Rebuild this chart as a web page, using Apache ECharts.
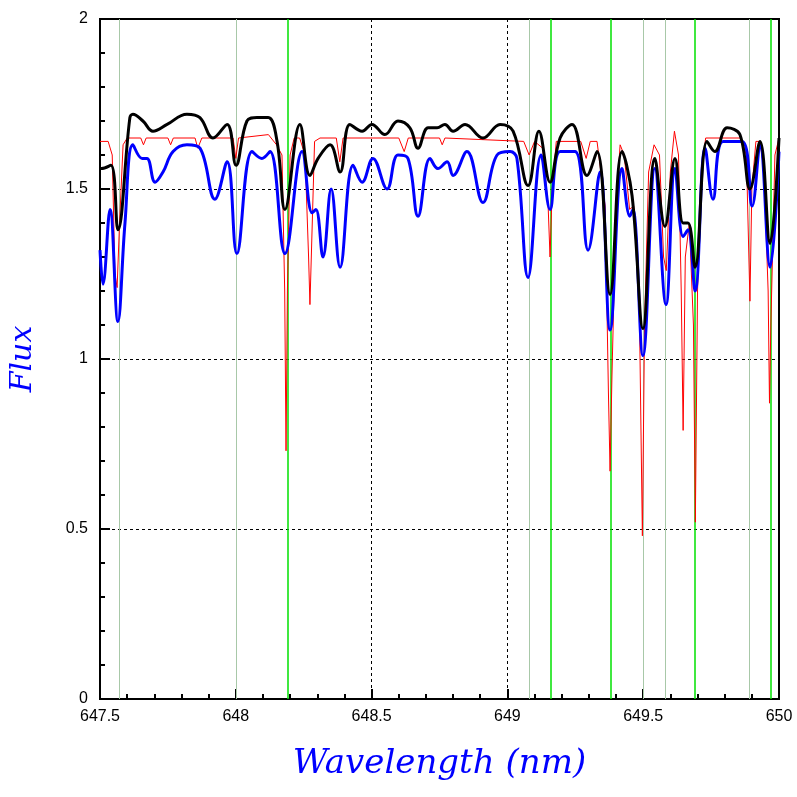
<!DOCTYPE html>
<html><head><meta charset="utf-8">
<script src="https://cdn.jsdelivr.net/npm/echarts@6/dist/echarts.min.js"></script>
<style>html,body{margin:0;background:#fff}#chart{width:797px;height:797px}</style>
</head><body><div id="chart"></div>
<script>
var blackCurve=[[647.5,1.56],[647.505,1.56],[647.54,1.57],[647.566,1.38],[647.61,1.71],[647.621,1.72],[647.658,1.70],[647.695,1.67],[647.747,1.69],[647.82,1.72],[647.868,1.71],[647.916,1.65],[647.968,1.69],[648.001,1.57],[648.041,1.70],[648.078,1.71],[648.119,1.71],[648.152,1.64],[648.181,1.44],[648.236,1.69],[648.273,1.54],[648.303,1.59],[648.347,1.63],[648.384,1.55],[648.42,1.69],[648.465,1.67],[648.501,1.69],[648.549,1.66],[648.597,1.70],[648.641,1.68],[648.671,1.62],[648.708,1.68],[648.741,1.68],[648.77,1.69],[648.8,1.67],[648.844,1.69],[648.91,1.65],[648.973,1.69],[649.021,1.67],[649.076,1.51],[649.116,1.67],[649.157,1.52],[649.194,1.65],[649.238,1.69],[649.293,1.54],[649.33,1.61],[649.378,1.19],[649.422,1.61],[649.459,1.48],[649.499,1.09],[649.543,1.59],[649.58,1.39],[649.617,1.59],[649.647,1.40],[649.665,1.40],[649.691,1.27],[649.735,1.64],[649.764,1.61],[649.809,1.68],[649.856,1.66],[649.893,1.50],[649.93,1.64],[649.967,1.34],[650,1.65]];
var blueCurve=[[647.5,1.32],[647.511,1.22],[647.537,1.44],[647.566,1.11],[647.592,1.40],[647.621,1.63],[647.655,1.59],[647.673,1.59],[647.703,1.52],[647.732,1.55],[647.769,1.61],[647.82,1.63],[647.868,1.62],[647.923,1.47],[647.968,1.58],[648.004,1.31],[648.06,1.61],[648.096,1.59],[648.126,1.61],[648.181,1.31],[648.244,1.61],[648.281,1.43],[648.295,1.44],[648.321,1.30],[648.351,1.50],[648.384,1.27],[648.432,1.57],[648.465,1.52],[648.505,1.59],[648.557,1.50],[648.597,1.60],[648.634,1.59],[648.671,1.42],[648.715,1.59],[648.744,1.56],[648.778,1.58],[648.8,1.54],[648.851,1.61],[648.91,1.46],[648.962,1.60],[649.01,1.61],[649.035,1.59],[649.076,1.24],[649.124,1.60],[649.157,1.44],[649.194,1.61],[649.249,1.61],[649.297,1.32],[649.341,1.55],[649.378,1.085],[649.422,1.56],[649.451,1.42],[649.462,1.44],[649.499,1.01],[649.543,1.56],[649.584,1.16],[649.617,1.56],[649.647,1.36],[649.665,1.38],[649.691,1.20],[649.728,1.62],[649.757,1.47],[649.794,1.64],[649.864,1.64],[649.901,1.45],[649.93,1.63],[649.967,1.27],[650,1.61]];
var redCurve=[[647.5,1.64],[647.53,1.64],[647.545,1.6],[647.555,1.25],[647.563,1.21],[647.572,1.4],[647.585,1.63],[647.6,1.65],[647.65,1.65],[647.66,1.63],[647.67,1.65],[647.75,1.65],[647.76,1.63],[647.77,1.65],[647.85,1.65],[647.86,1.62],[647.875,1.65],[647.99,1.65],[648.0,1.59],[648.01,1.65],[648.12,1.66],[648.15,1.63],[648.17,1.6],[648.18,1.2],[648.185,0.73],[648.19,1.2],[648.2,1.6],[648.215,1.65],[648.235,1.65],[648.255,1.6],[648.268,1.3],[648.273,1.16],[648.278,1.3],[648.29,1.64],[648.31,1.65],[648.37,1.65],[648.383,1.58],[648.395,1.65],[648.6,1.65],[648.62,1.61],[648.635,1.65],[648.75,1.65],[648.76,1.63],[648.77,1.65],[649.06,1.64],[649.08,1.6],[649.1,1.64],[649.13,1.62],[649.15,1.45],[649.157,1.3],[649.165,1.5],[649.18,1.64],[649.27,1.64],[649.29,1.59],[649.305,1.64],[649.33,1.64],[649.36,1.45],[649.372,0.9],[649.378,0.67],[649.385,0.95],[649.4,1.45],[649.415,1.63],[649.43,1.6],[649.45,1.44],[649.465,1.45],[649.485,1.2],[649.497,0.48],[649.505,1.1],[649.52,1.55],[649.54,1.63],[649.56,1.6],[649.575,1.3],[649.585,1.26],[649.6,1.55],[649.615,1.67],[649.63,1.6],[649.64,1.2],[649.647,0.79],[649.655,1.3],[649.67,1.4],[649.685,1.1],[649.692,0.52],[649.7,1.2],[649.715,1.55],[649.73,1.65],[649.86,1.65],[649.88,1.6],[649.893,1.17],[649.9,1.5],[649.915,1.64],[649.93,1.64],[649.945,1.55],[649.96,1.2],[649.965,0.87],[649.97,1.1],[649.985,1.6],[650,1.65]];
var strongLines=[648.19,649.16,649.38,649.69,649.965];
var weakLines=[647.565,648.0,649.08,649.5,649.58,649.89];

var myChart=echarts.init(document.getElementById('chart'));
var tickLab={color:'#000',fontSize:16,fontFamily:'Liberation Sans'};
var dotted={show:true,lineStyle:{color:'#000',type:[3,3],width:1}};
var option={
    animation:false,
    grid:{left:100,right:18,top:19,bottom:98,show:true,borderColor:'#000',borderWidth:2},
    xAxis:{type:'value',min:647.5,max:650,interval:0.5,
        name:'Wavelength (nm)',nameLocation:'middle',nameGap:48,
        nameTextStyle:{color:'#0000ff',fontSize:34,fontStyle:'italic',fontFamily:'DejaVu Serif'},
        axisLine:{lineStyle:{color:'#000',width:2}},
        axisTick:{inside:true,length:10,lineStyle:{color:'#000',width:2}},
        minorTick:{show:true,splitNumber:5,length:5,lineStyle:{color:'#000',width:2}},
        axisLabel:Object.assign({margin:10,formatter:function(v){return String(+v.toFixed(1));}},tickLab),
        splitLine:dotted},
    yAxis:{type:'value',min:0,max:2,interval:0.5,
        name:'Flux',nameLocation:'middle',nameGap:62,
        nameTextStyle:{color:'#0000ff',fontSize:30,fontStyle:'italic',fontFamily:'DejaVu Serif'},
        axisLine:{lineStyle:{color:'#000',width:2}},
        axisTick:{inside:true,length:10,lineStyle:{color:'#000',width:2}},
        minorTick:{show:true,splitNumber:5,length:5,lineStyle:{color:'#000',width:2}},
        axisLabel:Object.assign({margin:12},tickLab),
        splitLine:dotted},
    series:[
        {type:'line',data:[],silent:true,z:1,
         markLine:{symbol:'none',silent:true,z:1,label:{show:false},
            data:weakLines.map(function(v){return {xAxis:v,lineStyle:{color:'#a8c8a8',width:1,type:'solid'}};})
              .concat(strongLines.map(function(v){return {xAxis:v,lineStyle:{color:'#00e000',width:1.5,type:'solid'}};}))}},
        {type:'line',data:redCurve,z:3,showSymbol:false,lineStyle:{color:'#ff0000',width:1}},
        {type:'line',data:blueCurve,z:4,showSymbol:false,smooth:0.4,lineStyle:{color:'#0000ff',width:3}},
        {type:'line',data:blackCurve,z:5,showSymbol:false,smooth:0.4,lineStyle:{color:'#000',width:3}}
    ]
};
myChart.setOption(option);
</script></body></html>
